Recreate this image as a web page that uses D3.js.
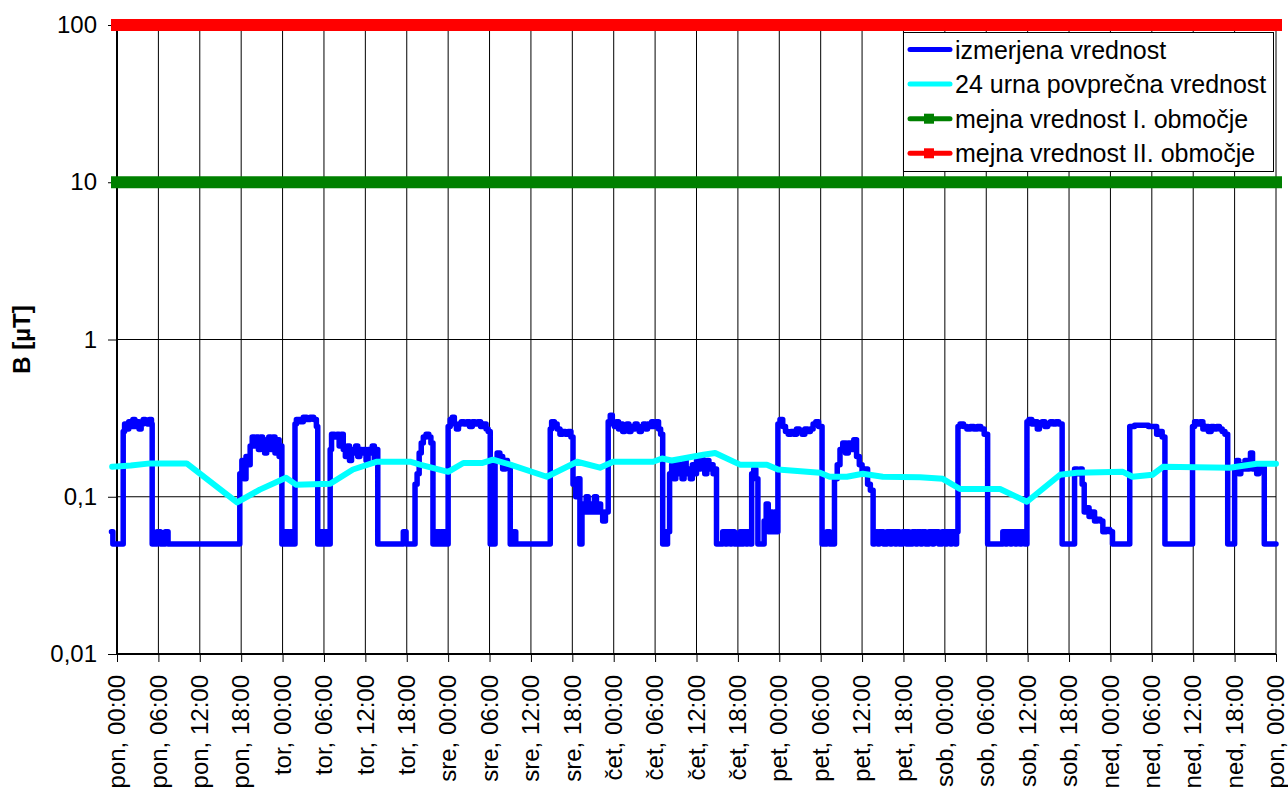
<!DOCTYPE html>
<html>
<head>
<meta charset="utf-8">
<script src="https://cdn.jsdelivr.net/npm/d3@7"></script>
<style>
  html, body { margin: 0; padding: 0; background: #fff; }
  svg { display: block; }
  text { font-family: "Liberation Sans", Arial, sans-serif; fill: #000; }
</style>
</head>
<body>
<svg id="chart" width="1288" height="792"></svg>
<script>
// Time axis: hours from Monday 00:00, one tick every 6 hours
const tickHours = d3.range(0, 169, 6);
const tickLabels = [
  "pon, 00:00", "pon, 06:00", "pon, 12:00", "pon, 18:00",
  "tor, 00:00", "tor, 06:00", "tor, 12:00", "tor, 18:00",
  "sre, 00:00", "sre, 06:00", "sre, 12:00", "sre, 18:00",
  "čet, 00:00", "čet, 06:00", "čet, 12:00", "čet, 18:00",
  "pet, 00:00", "pet, 06:00", "pet, 12:00", "pet, 18:00",
  "sob, 00:00", "sob, 06:00", "sob, 12:00", "sob, 18:00",
  "ned, 00:00", "ned, 06:00", "ned, 12:00", "ned, 18:00",
  "pon, 00:00"
];
const yTicks = [0.01, 0.1, 1, 10, 100];
const yTickLabels = ["0,01", "0,1", "1", "10", "100"];

// Limit values (µT)
const limitI = 10;
const limitII = 100;

// Measured flux density [hour, µT]; each value holds until the next point
const measured = [
  [-0.8,0.06],[-0.6,0.05],
  [0.9,0.26],[1.1,0.29],[1.4,0.27],[1.7,0.3],[2.0,0.28],[2.3,0.31],[2.6,0.28],[2.9,0.3],[3.2,0.27],[3.5,0.29],[3.8,0.31],[4.1,0.3],[4.4,0.29],[4.7,0.31],[5.0,0.29],
  [5.1,0.05],[5.8,0.06],[6.3,0.05],[7.0,0.06],[7.4,0.05],
  [17.8,0.14],[18.1,0.17],[18.4,0.13],[18.7,0.18],[19.0,0.16],[19.3,0.21],[19.6,0.24],[19.9,0.21],[20.2,0.24],[20.5,0.2],[20.8,0.24],[21.1,0.22],[21.4,0.19],[21.7,0.23],[22.0,0.24],[22.3,0.2],[22.6,0.24],[22.9,0.19],[23.2,0.23],[23.5,0.18],[23.7,0.21],
  [23.9,0.05],[24.1,0.06],[24.4,0.05],[24.6,0.06],[24.9,0.05],[25.1,0.06],[25.4,0.05],
  [25.8,0.29],[26.0,0.31],[26.5,0.3],[27.0,0.32],[27.5,0.31],[28.0,0.32],[28.5,0.31],[28.9,0.28],
  [29.1,0.05],[29.3,0.06],[29.6,0.05],[29.8,0.06],[30.1,0.05],[30.3,0.06],[30.6,0.05],
  [30.9,0.2],[31.1,0.25],[31.5,0.24],[31.9,0.25],[32.2,0.21],[32.5,0.25],[32.8,0.2],[33.1,0.18],[33.4,0.21],[33.7,0.17],[34.0,0.2],[34.3,0.19],[34.6,0.21],[34.9,0.18],[35.2,0.2],[35.5,0.19],[35.8,0.2],[36.1,0.17],[36.4,0.2],[36.7,0.19],[37.0,0.21],[37.3,0.17],[37.5,0.2],
  [37.8,0.05],[41.5,0.06],[41.9,0.05],
  [43.2,0.12],[43.5,0.14],[43.8,0.19],[44.1,0.22],[44.4,0.24],[44.8,0.25],[45.2,0.24],[45.5,0.22],
  [45.8,0.05],[46.0,0.06],[46.3,0.05],[46.5,0.06],[46.8,0.05],[47.0,0.06],[47.3,0.05],[47.5,0.06],[47.8,0.05],
  [48.0,0.28],[48.3,0.31],[48.6,0.32],[48.9,0.29],[49.2,0.27],[49.5,0.29],[49.9,0.3],[50.3,0.29],[50.7,0.3],[51.1,0.28],[51.5,0.3],[51.9,0.29],[52.3,0.3],[52.7,0.28],[53.1,0.29],[53.5,0.27],[53.8,0.26],
  [54.1,0.05],
  [54.8,0.17],[55.1,0.19],[55.5,0.18],[55.9,0.15],[56.3,0.17],[56.6,0.16],
  [57.0,0.05],[57.5,0.06],[57.8,0.05],
  [62.8,0.27],[63.0,0.3],[63.4,0.29],[63.8,0.27],[64.2,0.25],[64.6,0.26],[65.0,0.25],[65.4,0.26],[65.8,0.24],
  [66.1,0.12],[66.5,0.1],[66.8,0.13],[67.1,0.05],[67.4,0.09],[67.7,0.08],[68.0,0.1],[68.3,0.08],[68.6,0.09],[68.9,0.08],[69.2,0.1],[69.5,0.08],[69.8,0.09],[70.1,0.08],[70.4,0.07],[70.8,0.08],
  [71.2,0.3],[71.5,0.33],[71.8,0.29],[72.1,0.28],[72.4,0.3],[72.7,0.27],[73.0,0.29],[73.3,0.26],[73.6,0.28],[73.9,0.29],[74.2,0.26],[74.5,0.28],[74.8,0.27],[75.1,0.29],[75.4,0.28],[75.7,0.26],[76.0,0.28],[76.3,0.29],[76.6,0.27],[76.9,0.29],[77.2,0.28],[77.5,0.3],[77.8,0.28],[78.1,0.3],[78.5,0.27],[78.8,0.25],
  [79.1,0.05],[79.3,0.06],[79.6,0.05],[79.8,0.06],
  [80.1,0.14],[80.4,0.16],[80.7,0.13],[81.0,0.17],[81.3,0.14],[81.6,0.16],[81.9,0.13],[82.2,0.17],[82.5,0.14],[82.8,0.15],[83.1,0.13],[83.4,0.16],[83.7,0.14],[84.0,0.17],[84.3,0.15],[84.6,0.18],[84.9,0.16],[85.2,0.14],[85.5,0.17],[85.8,0.15],[86.1,0.16],[86.4,0.14],[86.7,0.15],
  [86.9,0.05],[87.8,0.06],[88.2,0.05],[88.4,0.06],[88.9,0.05],[89.1,0.06],[89.5,0.05],[90.3,0.06],[90.6,0.05],[90.8,0.06],[91.2,0.05],[91.4,0.06],[91.8,0.05],
  [92.0,0.14],[92.3,0.15],[92.6,0.13],[92.9,0.05],[93.8,0.07],[94.1,0.09],[94.4,0.06],[94.7,0.08],[95.0,0.06],[95.3,0.08],[95.6,0.06],
  [95.8,0.29],[96.1,0.31],[96.5,0.28],[96.9,0.26],[97.3,0.25],[97.7,0.26],[98.1,0.25],[98.5,0.27],[98.9,0.26],[99.3,0.25],[99.7,0.27],[100.1,0.26],[100.5,0.27],[100.9,0.29],[101.3,0.3],[101.7,0.28],
  [102.2,0.05],[102.9,0.06],[103.3,0.05],
  [104.0,0.13],[104.4,0.16],[104.8,0.2],[105.2,0.22],[105.6,0.19],[106.0,0.22],[106.4,0.2],[106.8,0.23],[107.2,0.18],[107.6,0.16],[108.0,0.14],[108.4,0.15],[108.8,0.12],[109.2,0.11],
  [109.6,0.05],[109.8,0.06],[110.3,0.05],[110.5,0.06],[111.1,0.05],[111.6,0.06],[112.1,0.05],[112.3,0.06],[112.8,0.05],[113.0,0.06],[113.4,0.05],[113.9,0.06],[114.4,0.05],[114.6,0.06],[114.8,0.05],[115.3,0.06],[115.8,0.05],[116.0,0.06],[116.5,0.05],[116.7,0.06],[117.2,0.05],[117.7,0.06],[118.2,0.05],[118.4,0.06],[119.1,0.05],[119.6,0.06],[120.1,0.05],[120.3,0.06],[120.8,0.05],[121.0,0.06],[121.5,0.05],[121.7,0.06],
  [121.9,0.28],[122.2,0.29],[122.7,0.28],[123.2,0.27],[123.7,0.28],[124.2,0.27],[124.7,0.28],[125.2,0.27],[125.7,0.25],
  [126.2,0.05],[128.4,0.06],[128.8,0.05],[129.0,0.06],[129.5,0.05],[129.7,0.06],[130.2,0.05],[130.4,0.06],[130.9,0.05],[131.1,0.06],[131.6,0.05],
  [131.9,0.3],[132.2,0.31],[132.6,0.29],[133.0,0.3],[133.4,0.27],[133.7,0.29],[134.1,0.3],[134.5,0.28],[134.9,0.29],[135.3,0.3],[135.7,0.29],[136.1,0.3],[136.5,0.29],
  [137.0,0.05],
  [138.8,0.15],[139.2,0.14],[139.6,0.15],[139.9,0.12],[140.2,0.08],[140.5,0.085],[140.9,0.075],[141.3,0.08],[141.7,0.07],[142.1,0.072],[142.5,0.07],[142.9,0.06],[143.4,0.062],[143.9,0.06],
  [144.3,0.05],
  [146.8,0.28],[147.5,0.285],[148.5,0.285],[149.5,0.28],[150.3,0.28],[150.7,0.25],[151.1,0.26],[151.5,0.24],
  [151.9,0.05],
  [155.9,0.28],[156.2,0.3],[156.6,0.29],[157.0,0.3],[157.4,0.27],[157.8,0.28],[158.2,0.26],[158.6,0.28],[159.0,0.27],[159.4,0.28],[159.8,0.27],[160.2,0.26],[160.6,0.25],
  [161.0,0.05],
  [162.0,0.15],[162.3,0.17],[162.6,0.14],[162.9,0.16],[163.2,0.15],[163.5,0.17],[163.8,0.15],[164.1,0.16],[164.3,0.19],[164.6,0.15],[164.9,0.16],[165.2,0.14],[165.5,0.16],[165.8,0.15],[166.1,0.16],
  [166.3,0.05],[168.0,0.05]
];

// 24-hour running average [hour, µT]
const average24h = [
  [-0.7,0.155],[0,0.156],[2,0.158],[4.8,0.163],[10.1,0.163],[17.4,0.092],[20.7,0.111],[24.5,0.132],
  [26,0.119],[30.9,0.121],[34.2,0.149],[37.7,0.167],[42.5,0.167],[43.9,0.16],[48,0.144],[50.2,0.164],
  [53,0.164],[54.5,0.172],[57,0.16],[62.3,0.134],[66.7,0.167],[70,0.153],[71.9,0.167],[77.7,0.167],
  [79,0.175],[80.4,0.17],[85,0.185],[86.7,0.19],[90.3,0.16],[94.2,0.16],[95.8,0.149],[101.9,0.142],
  [103.3,0.134],[105.8,0.134],[108.1,0.14],[111,0.134],[116.4,0.133],[119.7,0.13],[122.2,0.112],
  [128,0.112],[131.9,0.093],[136.7,0.138],[139.1,0.142],[145.8,0.144],[147.2,0.134],[150.1,0.138],
  [151.6,0.155],[161.3,0.153],[165.2,0.162],[168,0.162]
];

const legendItems = [
  { label: "izmerjena vrednost", color: "#0000ff", marker: false },
  { label: "24 urna povprečna vrednost", color: "#00ffff", marker: false },
  { label: "mejna vrednost I. območje", color: "#008000", marker: true },
  { label: "mejna vrednost II. območje", color: "#ff0000", marker: true }
];

const plot = { left: 117, right: 1276, top: 25, bottom: 654 };

const svg = d3.select("#chart");

const x = d3.scaleLinear().domain([0, 168]).range([plot.left, plot.right]);
const y = d3.scaleLog().domain([0.01, 100]).range([plot.bottom, plot.top]);

// Grid
const grid = svg.append("g");
grid.selectAll("line.v").data(tickHours.slice(1)).join("line")
  .attr("x1", d => x(d)).attr("x2", d => x(d))
  .attr("y1", plot.top).attr("y2", plot.bottom)
  .attr("stroke", "#000").attr("stroke-width", 1);
grid.selectAll("line.h").data([0.1, 1, 10]).join("line")
  .attr("x1", plot.left).attr("x2", plot.right)
  .attr("y1", d => y(d)).attr("y2", d => y(d))
  .attr("stroke", "#000").attr("stroke-width", 1);

// Y axis
const yAxis = d3.axisLeft(y).tickValues(yTicks)
  .tickFormat((d, i) => yTickLabels[i]).tickSize(9).tickPadding(11);
const gy = svg.append("g").attr("transform", `translate(${plot.left},0)`).call(yAxis);
gy.select(".domain").attr("stroke", "#000").attr("stroke-width", 2).attr("d", `M0,${plot.top}V${plot.bottom}`);
gy.selectAll(".tick line").attr("stroke", "#000").attr("stroke-width", 1);
gy.selectAll(".tick text").style("font-size", "24px").style("font-family", "Liberation Sans, Arial, sans-serif").attr("fill", "#000");

// X axis
const xAxis = d3.axisBottom(x).tickValues(tickHours)
  .tickFormat((d, i) => tickLabels[i]).tickSize(8).tickPadding(0);
const gx = svg.append("g").attr("transform", `translate(0,${plot.bottom})`).call(xAxis);
gx.select(".domain").attr("stroke", "#000").attr("stroke-width", 2).attr("d", `M${plot.left},0H${plot.right}`);
gx.selectAll(".tick line").attr("stroke", "#000").attr("stroke-width", 1);
gx.selectAll(".tick text")
  .style("font-size", "24px").style("font-family", "Liberation Sans, Arial, sans-serif").attr("fill", "#000")
  .attr("text-anchor", "end")
  .attr("transform", "translate(0,21) rotate(-90)")
  .attr("x", 0).attr("y", 0).attr("dy", "0.32em");

// Y axis title
svg.append("text")
  .attr("transform", `translate(30,${y(1)}) rotate(-90)`)
  .attr("text-anchor", "middle")
  .style("font-size", "24px").style("font-weight", "bold")
  .text("B [µT]");

// Limit lines
const limits = [{ v: limitI, color: "#008000" }, { v: limitII, color: "#ff0000" }];
svg.append("g").selectAll("line").data(limits).join("line")
  .attr("x1", x(0)).attr("x2", x(168))
  .attr("y1", d => y(d.v)).attr("y2", d => y(d.v))
  .attr("stroke", d => d.color).attr("stroke-width", 12).attr("stroke-linecap", "square");

// Measured series
svg.append("path")
  .datum(measured)
  .attr("fill", "none").attr("stroke", "#0000ff").attr("stroke-width", 5.5)
  .attr("stroke-linejoin", "round").attr("stroke-linecap", "round")
  .attr("d", d3.line().x(d => x(d[0])).y(d => y(d[1])).curve(d3.curveStepAfter));

// 24 h average
svg.append("path")
  .datum(average24h)
  .attr("fill", "none").attr("stroke", "#00ffff").attr("stroke-width", 6)
  .attr("stroke-linejoin", "round").attr("stroke-linecap", "round")
  .attr("d", d3.line().x(d => x(d[0])).y(d => y(d[1])));

// Legend
const lg = svg.append("g").attr("transform", "translate(903,32)");
lg.append("rect").attr("x", 0.5).attr("y", 0.5).attr("width", 370).attr("height", 139)
  .attr("fill", "#fff").attr("stroke", "#000").attr("stroke-width", 1);
const li = lg.selectAll("g.item").data(legendItems).join("g")
  .attr("transform", (d, i) => `translate(0,${17.5 + i * 34.6})`);
li.append("line").attr("x1", 7).attr("x2", 47).attr("y1", 0).attr("y2", 0)
  .attr("stroke", d => d.color).attr("stroke-width", 5).attr("stroke-linecap", "round");
li.filter(d => d.marker).append("rect")
  .attr("x", 21).attr("y", -5).attr("width", 10).attr("height", 10)
  .attr("fill", d => d.color);
li.append("text").attr("x", 52).attr("y", 0).attr("dy", "0.36em")
  .style("font-size", "25px").text(d => d.label);
</script>
</body>
</html>
